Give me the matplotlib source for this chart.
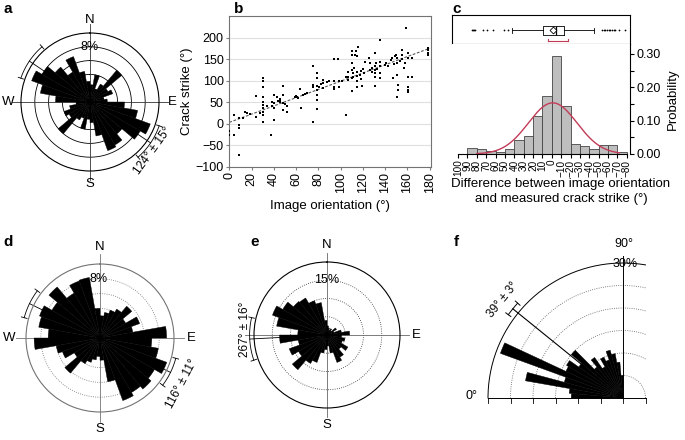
import numpy as np
import matplotlib

matplotlib.use('Agg')
import matplotlib.pyplot as plt
from matplotlib.patches import Wedge

plt.rcParams['font.family'] = ['Liberation Sans', 'DejaVu Sans']
plt.rcParams['font.size'] = 9

# rose diagrams: percent per 10 deg bin, clockwise from north
rose_a = [2.5, 4, 2, 3, 6, 3, 3.5, 2, 2.5, 5, 7, 9.3, 8.4, 6, 7.2, 7.5, 5, 3,
          2.5, 4, 2.5, 3, 6, 3.5, 4, 3, 2, 5, 7.3, 9, 8, 6.6, 5, 7, 4.5, 3]
rose_d = [3, 3.5, 4, 4.5, 5.6, 4, 5.7, 4.5, 9, 7, 8, 9.6, 8.5, 9, 8.5, 9, 6, 3,
          2.5, 3, 3.5, 4, 6.2, 4, 5.4, 6, 8.9, 7, 8.4, 8.7, 7.5, 9, 7, 8.2, 8.3, 4]
rose_e = [2.5, 2, 1.5, 2, 1.5, 3, 2, 4, 6.2, 4, 5, 4.5, 6.6, 5, 7, 8, 5, 3,
          4, 5, 8, 9, 12.4, 9, 11, 8, 13, 8, 14, 15.9, 14, 12, 11.7, 10, 9, 4]
# f: percent per 5 deg bin, 0 deg = left, 90 deg = up
rose_f = [11.5, 12, 22, 13.5, 29, 14, 14.5, 12, 15, 9, 11, 8, 10, 9, 11, 10, 8, 5]

# b: image orientation vs crack strike
b_orientation = [0, 0, 4, 4, 9, 9, 9, 9, 12.5, 14.5, 15.5, 18.5, 24, 24, 27.5,
                 30, 30, 30, 30, 30, 30, 30, 30, 30, 30,
                 33.5, 37.5, 38, 38, 40.5, 40.5, 40.5, 40.5, 42.5, 45.5, 45.5, 48.5, 48.5, 48.5,
                 48.5, 51.5, 51.5, 59, 60, 61, 63.5, 64, 66.5,
                 75, 75, 75, 75, 78.5, 78.5, 78.5, 78.5, 78.5, 78.5, 78.5, 84.5, 84.5, 84.5,
                 94, 94, 94, 94, 98, 98.5, 98.5, 101, 104.5, 104.5, 107, 107, 107,
                 110, 110, 110, 110, 110, 110, 111.5, 111.5, 113, 114, 115, 116, 114.5, 114.5, 114.5, 114.5,
                 117.5, 118, 119.5, 122, 125.5, 126.5, 126.5, 130.5, 131, 131, 131, 131, 131,
                 135.5, 135.5, 135.5, 135.5, 135.5,
                 139.5, 145, 146.5, 147.5, 149, 150, 150.5, 150.5, 150.5, 152, 152, 155, 155, 155.5, 157.5, 159,
                 160.5, 160.5, 160.5, 160.5, 161, 161, 164, 164, 179, 179, 179, 179,
                 128, 128, 132, 133, 112, 118, 120, 121, 141, 143, 148, 151, 153, 157,
                 81, 82, 88, 90, 44, 46, 50, 62, 68, 70]
b_strike = [-18, -26, 20, -26, 13, -3, -9, -73, 14, 28, 24, 22, 64, 16, 24,
            106, 98, 86, 61, 50, 44, 36, 28, 20, 3,
            42, -26, 50, 42, 67, 47, 36, 9, 63, 55, 50, 88, 67, 47,
            32, 40, 27, 63, 64, 62, 80, 37, 67,
            135, 90, 86, 3, 117, 105, 88, 78, 67, 55, 33, 102, 94, 82,
            150, 98, 86, 81, 150, 99, 86, 98, 109, 19, 121, 109, 102,
            168, 160, 140, 125, 105, 75, 117, 109, 160, 168, 156, 177, 121, 110, 100, 86,
            113, 104, 88, 144, 152, 140, 125, 164, 133, 125, 117, 109, 88,
            195, 144, 133, 117, 105,
            136, 148, 152, 105, 156, 160, 152, 113, 63, 90, 78, 171, 160, 150, 142, 222,
            109, 86, 78, 73, 164, 152, 152, 109, 175, 170, 165, 160,
            130, 120, 140, 128, 130, 122, 128, 118, 140, 135, 138, 140, 145, 130,
            85, 92, 96, 100, 52, 58, 45, 60, 70, 72]
fit_intercept = 3.0
fit_slope = 0.955

# c: histogram of differences, bins from 90 down to -80
c_bin_centers = [85, 75, 65, 55, 45, 35, 25, 15, 5, -5, -15, -25, -35, -45, -55, -65, -75]
c_prob = [0.018, 0.014, 0.009, 0.006, 0.015, 0.043, 0.055, 0.113, 0.173, 0.294,
          0.144, 0.031, 0.023, 0.015, 0.027, 0.027, 0.006]
c_mu = -1.0
c_sigma = 26.0
c_box = dict(med=-4, q1=-13, q3=9, whislo=-45.6, whishi=42.3, mean=-1,
             fliers=[85.6, 84.5, 83.4, 81.7, 73.8, 69.1, 63, 50.5, 46.9,
                     -53.4, -55.3, -57, -58.8, -60.6, -62.4, -64.2, -66, -67.7, -71.4, -77.8])
c_interval = [4, -17.5]

W, H = 685, 440
fig = plt.figure(figsize=(W / 100, H / 100), dpi=100)


def px_rect(left, top, width, height):
    return [left / W, 1 - (top + height) / H, width / W, height / H]


def rose(cx, cy, rad_px, pct, rmax, rings, ring_ls, ring_col, outer_col, cross_col, labels, lab_r=1.23):
    ax = fig.add_axes(px_rect(cx - rad_px, cy - rad_px, 2 * rad_px, 2 * rad_px), projection='polar')
    ax.set_theta_zero_location('N')
    ax.set_theta_direction(-1)
    theta = np.deg2rad(np.arange(len(pct)) * 10 + 5)
    ax.bar(theta, pct, width=np.deg2rad(10), color='k', edgecolor='k', linewidth=0.3, zorder=3)
    ax.set_ylim(0, rmax)
    ax.set_xticks([])
    ax.set_yticks([])
    ax.grid(False)
    ax.patch.set_alpha(0)
    ax.spines['polar'].set_color(outer_col)
    ax.spines['polar'].set_linewidth(0.8)
    circ = np.linspace(0, 2 * np.pi, 361)
    for r in rings:
        ax.plot(circ, np.full_like(circ, r), ls=ring_ls, color=ring_col, lw=0.6, zorder=1)
    for a in (0, 90, 180, 270):
        ax.plot([np.deg2rad(a)] * 2, [0, 1.13 * rmax], color=cross_col, lw=0.6, zorder=1, clip_on=False)
    for a, lab in labels:
        ax.text(np.deg2rad(a), lab_r * rmax, lab, ha='center', va='center', fontsize=9.5)
    return ax


def mean_mark(ax, bearing, spread, rmax, text, text_bearing, text_r, rot, r_br=1.06):
    ax.plot([np.deg2rad(bearing)] * 2, [0, r_br * rmax], 'k', lw=0.6, zorder=1, clip_on=False)
    th = np.deg2rad(np.linspace(bearing - spread, bearing + spread, 40))
    ax.plot(th, np.full_like(th, r_br * rmax), 'k', lw=0.6, clip_on=False)
    for e in (bearing - spread, bearing + spread):
        ax.plot([np.deg2rad(e)] * 2, [(r_br - 0.04) * rmax, (r_br + 0.04) * rmax], 'k', lw=0.6, clip_on=False)
    if text:
        ax.text(np.deg2rad(text_bearing), text_r * rmax, text, rotation=rot, ha='center', va='center',
                fontsize=8.5, rotation_mode='anchor')


# panel a
ax_a = rose(90, 102, 69, rose_a, 10, [2, 4, 6, 8], '-', 'k', 'k', '0.2',
            [(0, 'N'), (90, 'E'), (180, 'S'), (270, 'W')], lab_r=1.19)
ax_a.text(0, 8, '8%', ha='center', va='center', fontsize=9)
mean_mark(ax_a, 124, 15, 10, '124° ± 15°', 128, 1.15, 54)
mean_mark(ax_a, 304, 15, 10, None, 0, 0, 0)

# panel d
ax_d = rose(100, 338, 74, rose_d, 10, [2, 4, 6, 8], ':', '0.45', '0.45', '0.45',
            [(0, 'N'), (90, 'E'), (180, 'S'), (270, 'W')])
ax_d.text(np.deg2rad(-1), 8, '8%', ha='center', va='center', fontsize=9)
mean_mark(ax_d, 116, 11, 10, '116° ± 11°', 119, 1.27, 62)
mean_mark(ax_d, 296, 11, 10, None, 0, 0, 0)

# panel e
ax_e = rose(327, 335, 73, rose_e, 20, [5, 10, 15], ':', '0.2', 'k', '0.4',
            [(0, 'N'), (90, 'E'), (180, 'S')])
ax_e.text(0, 15, '15%', ha='center', va='center', fontsize=9)
mean_mark(ax_e, 267, 16, 20, '267° ± 16°', 274, 1.13, 90)

# panel b
ax_b = fig.add_axes(px_rect(229.3, 16, 201.4, 150.7))
ax_b.set_axisbelow(True)
ax_b.yaxis.grid(True, color='0.88', lw=0.8)
ax_b.scatter(b_orientation, b_strike, s=4, c='k', marker='s', linewidths=0, zorder=3)
xx = np.array([0, 180])
ax_b.plot(xx, fit_intercept + fit_slope * xx, ls=(0, (2.5, 1.5)), color='0.35', lw=0.8, zorder=2)
ax_b.set_xlim(0, 181)
ax_b.set_ylim(-100, 250)
ax_b.set_xticks(range(0, 181, 20))
ax_b.set_yticks(range(-100, 201, 50))
ax_b.tick_params(labelsize=9, length=2, color='0.5', pad=2)
ax_b.tick_params(axis='x', labelrotation=90)
for s in ax_b.spines.values():
    s.set_color('0.45')
    s.set_linewidth(0.8)
ax_b.set_xlabel('Image orientation (°)', fontsize=9.5, labelpad=5)
ax_b.set_ylabel('Crack strike (°)', fontsize=9.5, labelpad=2)

# panel c, box plot strip
ax_box = fig.add_axes(px_rect(452, 15, 178, 29))
ax_box.bxp([c_box], positions=[0.47], widths=0.31, orientation='horizontal', showmeans=True,
           manage_ticks=False,
           meanprops=dict(marker='D', markerfacecolor='white', markeredgecolor='k', markersize=3.5,
                          markeredgewidth=0.6),
           flierprops=dict(marker='o', markersize=0.9, markerfacecolor='k', markeredgecolor='k',
                           markeredgewidth=0.3),
           boxprops=dict(lw=0.6), whiskerprops=dict(lw=0.6), capprops=dict(lw=0.6),
           medianprops=dict(color='k', lw=0.9))
ax_box.plot(c_interval, [0.1, 0.1], color='#c23b57', lw=0.8)
for v in c_interval:
    ax_box.plot([v, v], [0.1, 0.17], color='#c23b57', lw=0.8)
ax_box.set_xlim(106.5, -83.5)
ax_box.set_ylim(0, 1)
ax_box.set_xticks([])
ax_box.set_yticks([])
for s in ax_box.spines.values():
    s.set_linewidth(0.8)

# panel c, histogram
ax_h = fig.add_axes(px_rect(452, 44, 178, 110))
ax_h.bar(c_bin_centers, c_prob, width=10, color='#bebebe', edgecolor='#444444', linewidth=0.6)
xs = np.linspace(80, -72, 200)
ax_h.plot(xs, 10 * np.exp(-0.5 * ((xs - c_mu) / c_sigma) ** 2) / (c_sigma * np.sqrt(2 * np.pi)),
          color='#c23b57', lw=1.0)
ax_h.set_xlim(106.5, -83.5)
ax_h.set_ylim(0, 0.33)
ax_h.spines['left'].set_visible(False)
ax_h.spines['top'].set_visible(False)
ax_h.spines['right'].set_bounds(0, 0.33)
ax_h.spines['bottom'].set_bounds(-80, 100)
ax_h.yaxis.tick_right()
ax_h.yaxis.set_label_position('right')
ax_h.set_yticks(np.arange(0, 0.31, 0.05))
ax_h.set_yticklabels(['0.00', '', '0.10', '', '0.20', '', '0.30'])
ax_h.set_xticks(range(100, -81, -10))
ax_h.tick_params(axis='x', labelrotation=90, labelsize=7.2, length=3, pad=1)
ax_h.tick_params(axis='y', labelsize=9, length=3, pad=2)
ax_h.set_ylabel('Probability', fontsize=9.5, labelpad=4)
fig.text(561 / W, 1 - 178 / H, 'Difference between image orientation\nand measured crack strike (°)',
         ha='center', va='top', fontsize=9.5, linespacing=1.3)

# panel f, quarter rose
ax_f = fig.add_axes(px_rect(461, 236, 189, 198))
ax_f.set_xlim(-36, 6)
ax_f.set_ylim(-8, 36)
ax_f.axis('off')
for i, v in enumerate(rose_f):
    ax_f.add_patch(Wedge((0, 0), v, 180 - (i + 1) * 5, 180 - i * 5, fc='k', ec='k', lw=0.3, zorder=3))
for r in [5, 10, 15, 20, 25, 30]:
    th = np.linspace(np.arccos(min(5 / r, 1)), np.pi, 150)
    ax_f.plot(r * np.cos(th), r * np.sin(th), ls='-' if r == 30 else ':',
              color='k' if r == 30 else '0.35', lw=0.7 if r == 30 else 0.6, zorder=1)
ax_f.plot([-30, 5], [0, 0], 'k', lw=0.7)
ax_f.plot([0, 0], [0, 31.5], 'k', lw=0.7)
for t in range(-30, 6, 5):
    ax_f.plot([t, t], [0, -1.2], 'k', lw=0.6)
ax_f.text(-33.6, 0.4, '0°', ha='center', va='center', fontsize=9)
ax_f.text(0.3, 34.3, '90°', ha='center', va='center', fontsize=9)
ax_f.text(0.5, 29.8, '30%', ha='center', va='center', fontsize=9)
ang = np.deg2rad(180 - 39)
ax_f.plot([11 * np.cos(ang), 31.5 * np.cos(ang)], [11 * np.sin(ang), 31.5 * np.sin(ang)], 'k', lw=0.8, zorder=4)
th = np.deg2rad(np.linspace(180 - 42, 180 - 36, 20))
ax_f.plot(31.5 * np.cos(th), 31.5 * np.sin(th), 'k', lw=0.7)
for a in (180 - 42, 180 - 36):
    ar = np.deg2rad(a)
    ax_f.plot([30.8 * np.cos(ar), 32.2 * np.cos(ar)], [30.8 * np.sin(ar), 32.2 * np.sin(ar)], 'k', lw=0.7)
ax_f.text(34.5 * np.cos(ang), 34.5 * np.sin(ang), '39° ± 3°', rotation=51, ha='center', va='center',
          fontsize=8.5, rotation_mode='anchor')

# panel letters
for x, y, s in [(3, 2, 'a'), (234, 2, 'b'), (452, 2, 'c'), (3, 235, 'd'), (250, 235, 'e'), (454, 235, 'f')]:
    fig.text(x / W, 1 - y / H, s, fontsize=11, fontweight='bold', va='top', ha='left')

fig.savefig('out.png', dpi=100)
plt.close(fig)
